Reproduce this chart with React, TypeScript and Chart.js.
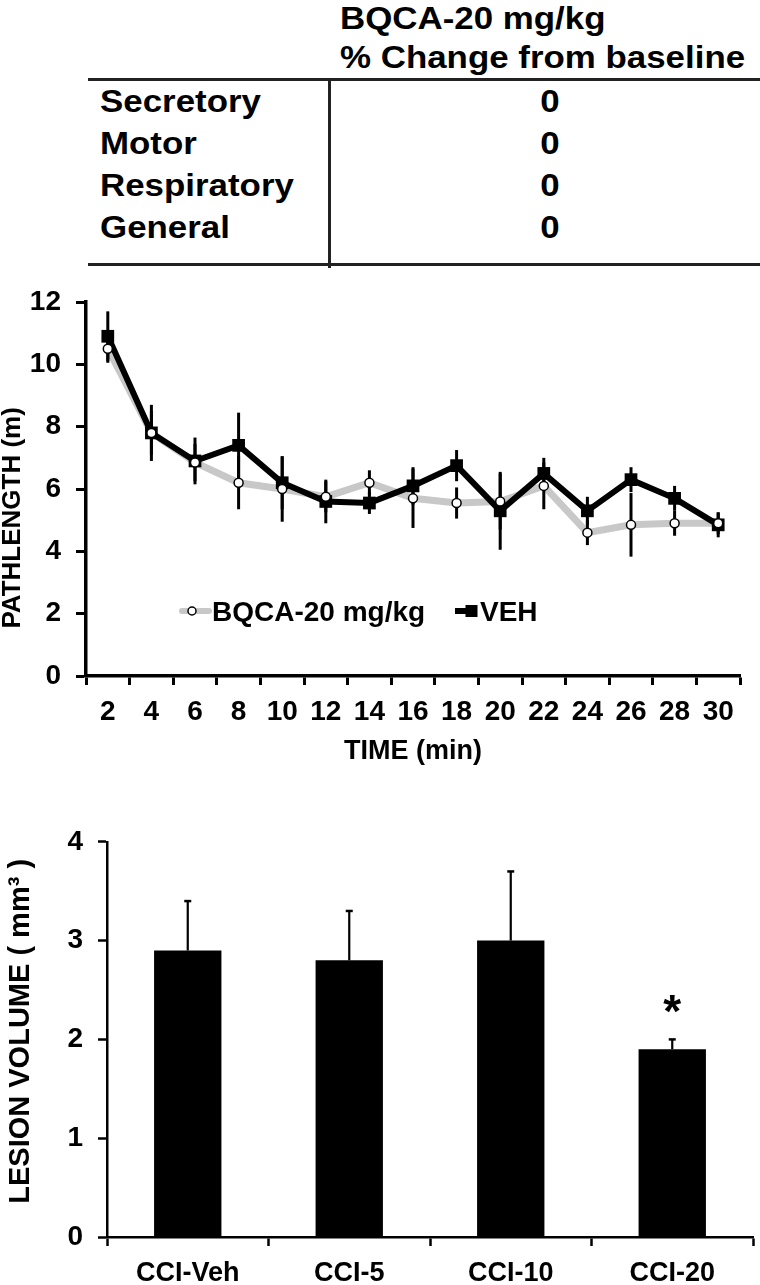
import React, { useEffect, useRef } from 'react';
import { Chart, registerables } from 'chart.js';

Chart.register(...registerables);

const FONT = '"Liberation Sans", Arial, Helvetica, sans-serif';
const GRAY = '#c8c8c8';

// ---------- table ----------
const tableColumnHeader = ['BQCA-20 mg/kg', '% Change from baseline'];
const tableRowLabels = ['Secretory', 'Motor', 'Respiratory', 'General'];
const tableRowValues = [0, 0, 0, 0];

// ---------- line chart ----------
const timeLabels = ['2', '4', '6', '8', '10', '12', '14', '16', '18', '20', '22', '24', '26', '28', '30'];
const bqcaPath = [10.5, 7.8, 6.85, 6.2, 6.0, 5.75, 6.2, 5.7, 5.55, 5.6, 6.1, 4.6, 4.85, 4.9, 4.9];
const bqcaPathErr = [0.45, 0.7, 0.6, 0.85, 1.05, 0.5, 0.4, 0.95, 0.5, 0.9, 0.75, 0.4, 1.02, 0.4, 0.35];
const vehPath = [10.9, 7.8, 6.9, 7.4, 6.2, 5.6, 5.55, 6.1, 6.75, 5.3, 6.5, 5.3, 6.3, 5.7, 4.85];
const vehPathErr = [0.8, 0.9, 0.75, 1.05, 0.85, 0.7, 0.35, 0.6, 0.5, 1.25, 0.5, 0.45, 0.4, 0.4, 0.4];
const seriesNames = ['BQCA-20 mg/kg', 'VEH'];

// ---------- bar chart ----------
const lesionGroups = ['CCI-Veh', 'CCI-5', 'CCI-10', 'CCI-20'];
const lesionVolume = [2.9, 2.8, 3.0, 1.9];
const lesionErr = [0.5, 0.5, 0.7, 0.1];
const lesionSignificance = ['', '', '', '*'];

Chart.defaults.font.family = FONT;
Chart.defaults.font.weight = 'bold';
Chart.defaults.color = '#000';

const lineErrorBars = {
  id: 'lineErrorBars',
  afterDatasetDraw(chart: any, args: any) {
    if (args.index !== 1) return;
    const { ctx, scales } = chart;
    const x = scales.x, y = scales.y;
    ctx.save();
    ctx.strokeStyle = '#000';
    ctx.lineWidth = 3;
    const series: [number[], number[]][] = [[vehPath, vehPathErr], [bqcaPath, bqcaPathErr]];
    series.forEach(([m, e]) => {
      m.forEach((v, i) => {
        const px = x.getPixelForValue(i);
        ctx.beginPath();
        ctx.moveTo(px, y.getPixelForValue(v - e[i]));
        ctx.lineTo(px, y.getPixelForValue(v + e[i]));
        ctx.stroke();
      });
    });
    ctx.restore();
  },
};

const lineLegend = {
  id: 'lineLegend',
  afterDraw(chart: any) {
    const { ctx, chartArea } = chart;
    const x0 = chartArea.left;
    const cy = chartArea.bottom - 65;
    ctx.save();
    // BQCA sample
    ctx.lineCap = 'round';
    ctx.strokeStyle = GRAY;
    ctx.lineWidth = 6;
    ctx.beginPath();
    ctx.moveTo(x0 + 96, cy);
    ctx.lineTo(x0 + 123, cy);
    ctx.stroke();
    ctx.beginPath();
    ctx.arc(x0 + 106, cy, 4, 0, Math.PI * 2);
    ctx.fillStyle = '#fff';
    ctx.fill();
    ctx.lineWidth = 1.5;
    ctx.strokeStyle = '#000';
    ctx.stroke();
    ctx.fillStyle = '#000';
    ctx.font = 'bold 28px ' + FONT;
    ctx.textAlign = 'left';
    ctx.textBaseline = 'alphabetic';
    ctx.fillText(seriesNames[0], x0 + 126, cy + 10);
    // VEH sample
    ctx.lineCap = 'butt';
    ctx.strokeStyle = '#000';
    ctx.lineWidth = 6;
    ctx.beginPath();
    ctx.moveTo(x0 + 369, cy);
    ctx.lineTo(x0 + 391, cy);
    ctx.stroke();
    ctx.fillRect(x0 + 379.5, cy - 6, 12, 12);
    ctx.fillText(seriesNames[1], x0 + 394, cy + 10);
    ctx.restore();
  },
};

const barErrorBars = {
  id: 'barErrorBars',
  afterDatasetsDraw(chart: any) {
    const { ctx, scales } = chart;
    const x = scales.x, y = scales.y;
    ctx.save();
    ctx.strokeStyle = '#000';
    ctx.fillStyle = '#000';
    lesionVolume.forEach((v, i) => {
      const px = x.getPixelForValue(i);
      const y0 = y.getPixelForValue(v);
      const y1 = y.getPixelForValue(v + lesionErr[i]);
      ctx.lineWidth = 2.2;
      ctx.beginPath();
      ctx.moveTo(px, y0);
      ctx.lineTo(px, y1);
      ctx.stroke();
      ctx.lineWidth = 2.5;
      ctx.beginPath();
      ctx.moveTo(px - 3.5, y1);
      ctx.lineTo(px + 3.5, y1);
      ctx.stroke();
      if (lesionSignificance[i]) {
        ctx.font = 'bold 46px ' + FONT;
        ctx.textAlign = 'center';
        ctx.textBaseline = 'alphabetic';
        ctx.fillText(lesionSignificance[i], px, y1 - 12);
      }
    });
    ctx.restore();
  },
};

const tStyle = (left: number, top: number, extra: any = {}) => ({
  position: 'absolute' as const,
  left,
  top,
  fontFamily: FONT,
  fontWeight: 700,
  fontSize: 32,
  lineHeight: '32px',
  whiteSpace: 'nowrap' as const,
  transform: 'scaleX(1.09)',
  transformOrigin: 'left top',
  color: '#000',
  ...extra,
});

const rowTops = [84.6, 127.2, 169.4, 211.2];

export default function App() {
  const lineRef = useRef<HTMLCanvasElement>(null);
  const barRef = useRef<HTMLCanvasElement>(null);

  useEffect(() => {
    document.body.style.margin = '0';
    const lc = new Chart(lineRef.current as HTMLCanvasElement, {
      type: 'line',
      data: {
        labels: timeLabels,
        datasets: [
          {
            label: seriesNames[0],
            data: bqcaPath,
            borderColor: GRAY,
            borderWidth: 7,
            pointRadius: 0,
            tension: 0,
            order: 3,
          },
          {
            label: seriesNames[1],
            data: vehPath,
            borderColor: '#000',
            backgroundColor: '#000',
            borderWidth: 6,
            pointStyle: 'rect',
            pointRadius: 9,
            pointBackgroundColor: '#000',
            pointBorderColor: '#000',
            pointBorderWidth: 0,
            tension: 0,
            order: 2,
          },
          {
            label: seriesNames[0] + ' markers',
            data: bqcaPath,
            showLine: false,
            pointStyle: 'circle',
            pointRadius: 4.5,
            pointBackgroundColor: '#fff',
            pointBorderColor: '#000',
            pointBorderWidth: 1.5,
            order: 1,
          },
        ],
      } as any,
      options: {
        animation: false,
        responsive: false,
        maintainAspectRatio: false,
        events: [],
        layout: { padding: { top: 32, right: 20, left: 0, bottom: 0 } },
        plugins: { legend: { display: false }, tooltip: { enabled: false } },
        scales: {
          x: {
            offset: true,
            ticks: { padding: 10, autoSkip: false, maxRotation: 0, font: { size: 28, weight: 'bold' }, color: '#000' },
            grid: { offset: true, drawOnChartArea: false, tickLength: 9, tickWidth: 3, tickColor: '#000' },
            border: { display: true, color: '#000', width: 3.5 },
            title: { display: true, text: 'TIME (min)', color: '#000', font: { size: 27, weight: 'bold' }, padding: { top: 0, bottom: 12 } },
            afterFit: (s: any) => { s.height = 104; },
          },
          y: {
            min: 0,
            max: 12,
            ticks: { stepSize: 2, padding: 15, font: { size: 28, weight: 'bold' }, color: '#000' },
            grid: { drawOnChartArea: false, tickLength: 10, tickWidth: 3, tickColor: '#000' },
            border: { display: true, color: '#000', width: 3.5 },
            title: { display: true, text: 'PATHLENGTH (m)        ', color: '#000', font: { size: 26, weight: 'bold', lineHeight: 1 }, padding: { top: 0, bottom: 0 } },
            afterFit: (s: any) => { s.width = 86; },
          },
        },
      } as any,
      plugins: [lineErrorBars, lineLegend],
    });

    const bc = new Chart(barRef.current as HTMLCanvasElement, {
      type: 'bar',
      data: {
        labels: lesionGroups,
        datasets: [
          {
            data: lesionVolume,
            backgroundColor: '#000',
            borderWidth: 0,
            barPercentage: 0.417,
            categoryPercentage: 1,
          },
        ],
      },
      options: {
        animation: false,
        responsive: false,
        maintainAspectRatio: false,
        events: [],
        layout: { padding: { top: 31, right: 7, left: 0, bottom: 0 } },
        plugins: { legend: { display: false }, tooltip: { enabled: false } },
        scales: {
          x: {
            ticks: { padding: 11, font: { size: 27, weight: 'bold' }, color: '#000', maxRotation: 0 },
            grid: { offset: true, drawOnChartArea: false, tickLength: 9, tickWidth: 2.5, tickColor: '#000' },
            border: { display: true, color: '#000', width: 2.5 },
            afterFit: (s: any) => { s.height = 48; },
          },
          y: {
            min: 0,
            max: 4,
            ticks: { stepSize: 1, padding: 15, font: { size: 28, weight: 'bold' }, color: '#000' },
            grid: { drawOnChartArea: false, tickLength: 9, tickWidth: 2.5, tickColor: '#000' },
            border: { display: true, color: '#000', width: 2.5 },
            title: { display: true, text: '  LESION VOLUME ( mm\u00B3 )', color: '#000', font: { size: 29, weight: 'bold', lineHeight: 1 }, padding: { top: 6.5, bottom: 0 } },
            afterFit: (s: any) => { s.width = 107; },
          },
        },
      } as any,
      plugins: [barErrorBars],
    });

    return () => {
      lc.destroy();
      bc.destroy();
    };
  }, []);

  return (
    <div style={{ position: 'relative', width: 760, height: 1285, background: '#fff', overflow: 'hidden' }}>
      <div style={tStyle(340, 1.9)}>{tableColumnHeader[0]}</div>
      <div style={tStyle(340, 41.2)}>{tableColumnHeader[1]}</div>
      <div style={{ position: 'absolute', left: 88, top: 77.5, width: 672, height: 3, background: '#222' }} />
      <div style={{ position: 'absolute', left: 88, top: 262.5, width: 672, height: 3, background: '#222' }} />
      <div style={{ position: 'absolute', left: 328, top: 78, width: 2.5, height: 190, background: '#222' }} />
      {tableRowLabels.map((r, i) => (
        <div key={r} style={tStyle(100, rowTops[i])}>{r}</div>
      ))}
      {tableRowValues.map((v, i) => (
        <div key={'v' + i} style={tStyle(450, rowTops[i], { width: 200, textAlign: 'center', transformOrigin: 'center top' })}>{v}</div>
      ))}
      <canvas ref={lineRef} width={760} height={510} style={{ position: 'absolute', left: 0, top: 270, display: 'block' }} />
      <canvas ref={barRef} width={760} height={475} style={{ position: 'absolute', left: 0, top: 810, display: 'block' }} />
    </div>
  );
}
